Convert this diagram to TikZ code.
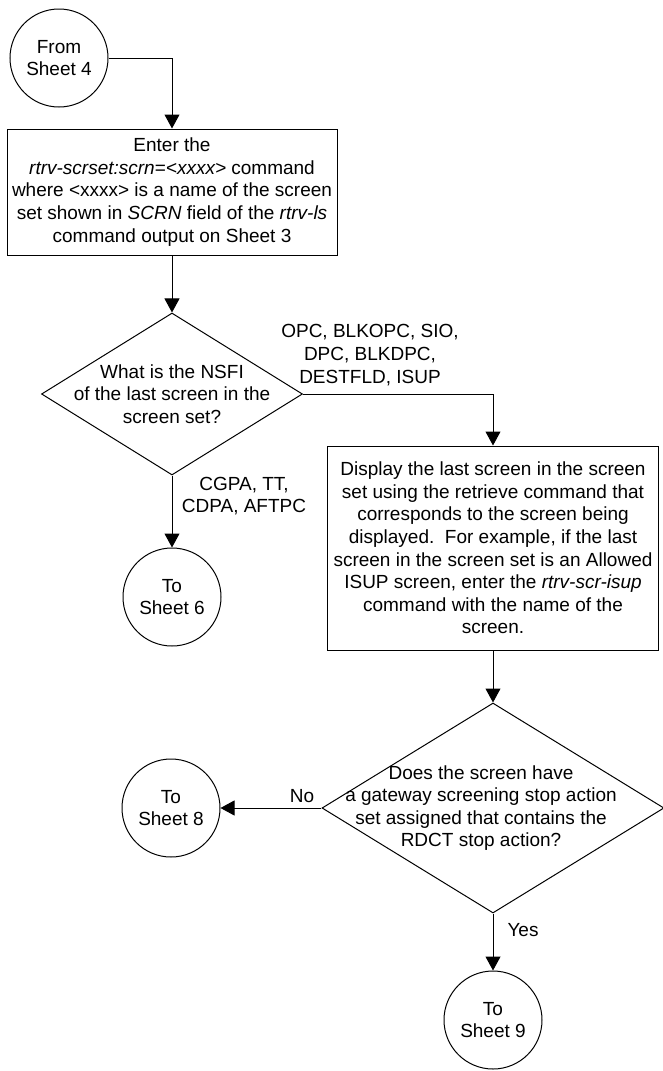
\documentclass[tikz,border=0pt]{standalone}
\usepackage{fontspec}
\setmainfont{Liberation Sans}
\usetikzlibrary{positioning,arrows.meta,shapes.geometric}

\begin{document}
\begin{tikzpicture}[
    x=1pt, y=-1pt,
    >={Triangle[length=14pt,width=15pt]},
    line width=1pt,
    every node/.style={font=\fontsize{19}{22.6}\selectfont, align=center, inner sep=0pt},
    conn/.style={circle,draw,minimum size=98pt},
    box/.style={rectangle,draw},
    decision/.style={diamond,draw},
  ]
  \useasboundingbox (0,0) rectangle (662,1071);

  % From Sheet 4
  \node[conn] (from4) at (59,58) {From\\Sheet 4};

  % Enter rtrv-scrset
  \node[box, minimum width=330pt, minimum height=126pt] (scrset) at (172,192)
    {Enter the\\
     \textit{rtrv-scrset:scrn}=\textit{<xxxx>} command\\
     where <xxxx> is a name of the screen\\
     set shown in \textit{SCRN} field of the \textit{rtrv-ls}\\
     command output on Sheet 3};
  \draw[->] (from4) -| (scrset);

  % NSFI decision
  \node[decision, minimum width=261pt, minimum height=162pt] (nsfi) at (172,394) {};
  \node (nsfitxt) at (nsfi.center) {What is the NSFI\\of the last screen in the\\screen set?};
  \draw[->] (scrset) -- (nsfi);

  % To Sheet 6
  \node[conn] (to6) at (172,597) {To\\Sheet 6};
  \draw[->] (nsfi) -- (to6);
  \node (lblcgpa) at (244,496) {CGPA, TT,\\CDPA, AFTPC};

  % Display last screen
  \node[box, minimum width=331pt, minimum height=204pt] (disp) at (493,548)
    {Display the last screen in the screen\\
     set using the retrieve command that\\
     corresponds to the screen being\\
     displayed.\ \ For example, if the last\\
     screen in the screen set is an Allowed\\
     ISUP screen, enter the \textit{rtrv-scr-isup}\\
     command with the name of the\\
     screen.};
  \draw[->] (nsfi) -| (disp);
  \node (lblopc) at (370,355) {OPC, BLKOPC, SIO,\\DPC, BLKDPC,\\DESTFLD, ISUP};

  % RDCT decision
  \node[decision, minimum width=342pt, minimum height=210pt] (rdct) at (493,808) {};
  \node (rdcttxt) at ([xshift=-12pt]rdct.center)
    {Does the screen have\\a gateway screening stop action\\set assigned that contains the\\RDCT stop action?};
  \draw[->] (disp) -- (rdct);

  % To Sheet 8
  \node[conn] (to8) at (171,808) {To\\Sheet 8};
  \draw[->] (rdct) -- (to8);
  \node (lblno) at (302,796) {No};

  % To Sheet 9
  \node[conn] (to9) at (493,1020) {To\\Sheet 9};
  \draw[->] (rdct) -- (to9);
  \node (lblyes) at (523,930) {Yes};
\end{tikzpicture}
\end{document}
